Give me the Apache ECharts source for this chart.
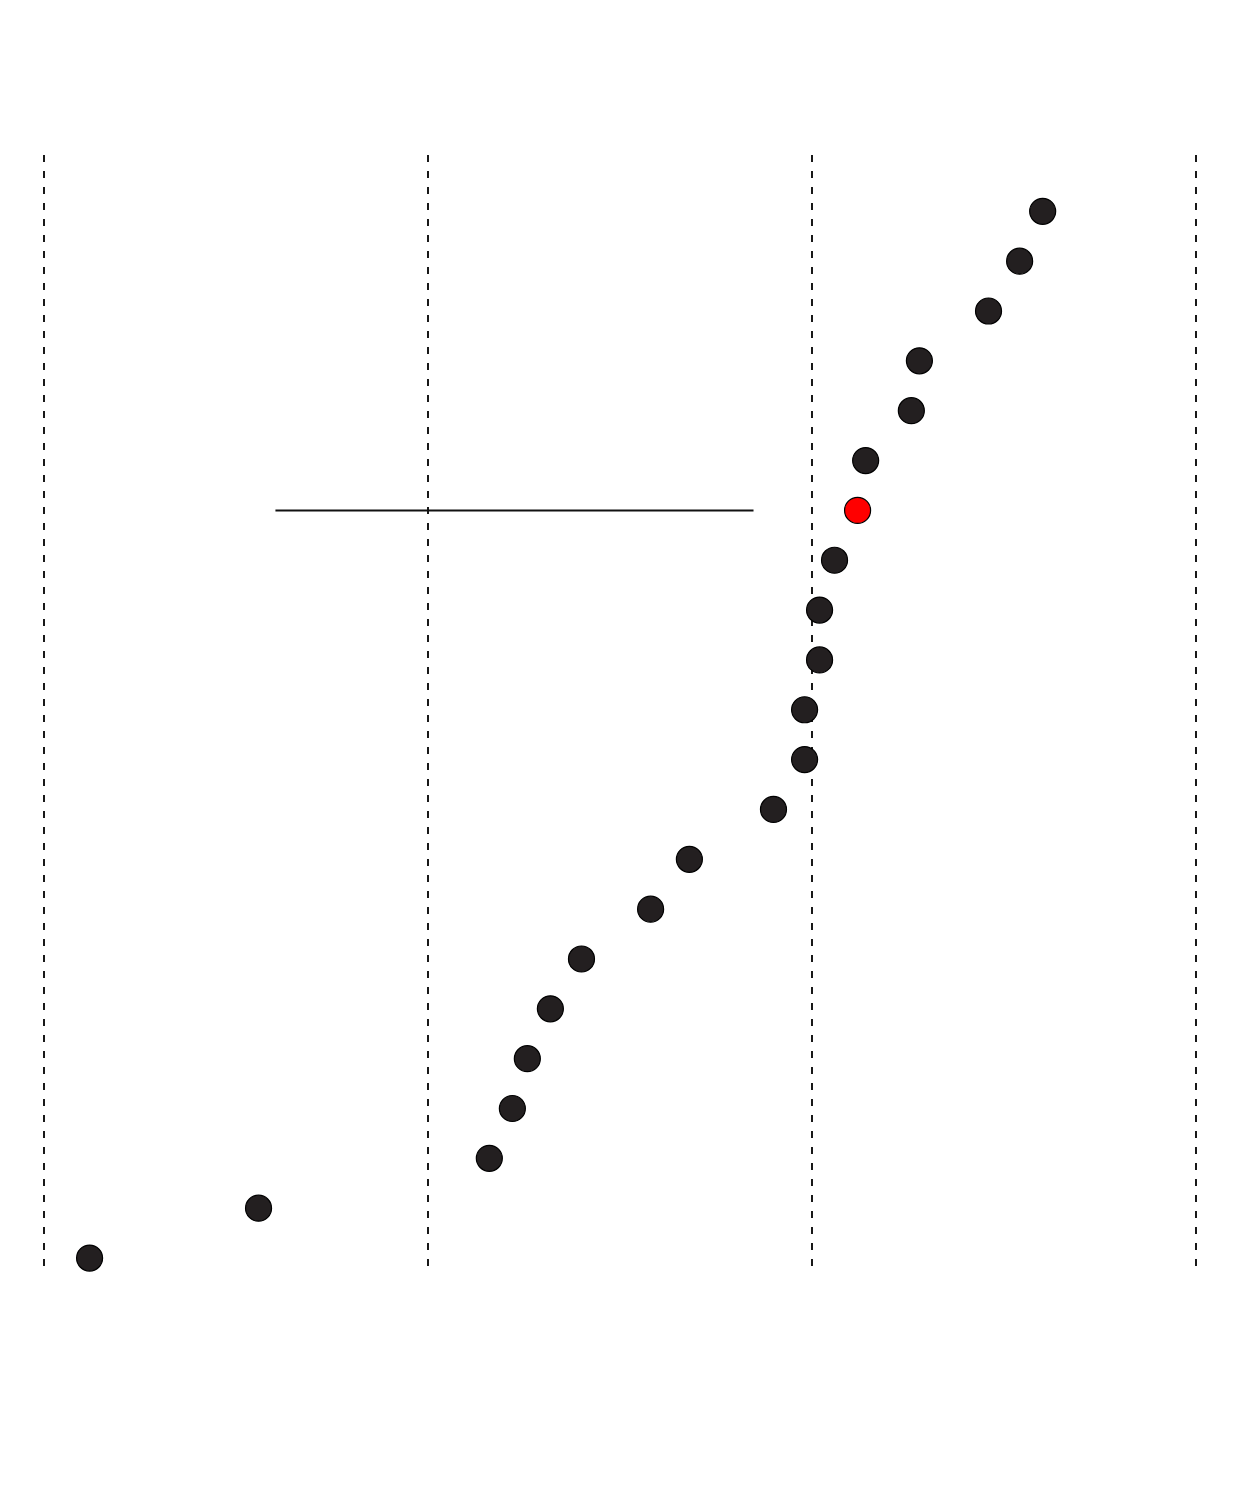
<!DOCTYPE html>
<html>
<head>
<meta charset="utf-8">
<script src="https://cdn.jsdelivr.net/npm/echarts@6/dist/echarts.min.js"></script>
<style>
  html, body { margin: 0; padding: 0; background: #fff; }
  #chart { width: 1240px; height: 1492px; }
</style>
</head>
<body>
<div id="chart"></div>
<script>
// rank from bottom (0) to top (21)
const ranks = [0, 1, 2, 3, 4, 5, 6, 7, 8, 9, 10, 11, 12, 13, 14, 15, 16, 17, 18, 19, 20, 21]
// value per rank
const values = [0.12, 0.56, 1.161, 1.221, 1.26, 1.32, 1.401, 1.581, 1.682, 1.901, 1.982,
  1.982, 2.021, 2.021, 2.06, 2.12, 2.141, 2.26, 2.281, 2.461, 2.542, 2.602]
const highlightRank = 15
// the horizontal segment at the highlighted rank
const segment = [0.604, 1.849]
const xTicks = [0, 1, 2, 3]

const chart = echarts.init(document.getElementById('chart'))

const dots = ranks.map((r, i) => {
  const hi = r === highlightRank
  return {
    value: [values[i], r],
    itemStyle: {
      color: hi ? '#ff0000' : '#231f20',
      borderColor: '#000',
      borderWidth: 1.2,
      opacity: 1
    }
  }
})

chart.setOption({
  backgroundColor: '#fff',
  animation: false,
  grid: { left: 43.5, top: 155, width: 1152, height: 1115 },
  xAxis: {
    type: 'value',
    min: xTicks[0],
    max: xTicks[xTicks.length - 1],
    interval: 1,
    axisLine: { show: false },
    axisTick: { show: false },
    axisLabel: { show: false },
    splitLine: {
      show: true,
      lineStyle: { color: '#000', type: [7, 9], width: 1.8 }
    }
  },
  yAxis: {
    type: 'value',
    min: -0.24,
    max: 22.13,
    axisLine: { show: false },
    axisTick: { show: false },
    axisLabel: { show: false },
    splitLine: { show: false }
  },
  series: [
    {
      type: 'line',
      data: [[segment[0], highlightRank], [segment[1], highlightRank]],
      symbol: 'none',
      lineStyle: { color: '#111', width: 2 },
      z: 1
    },
    {
      type: 'scatter',
      symbol: 'circle',
      symbolSize: 26,
      data: dots,
      z: 3
    }
  ]
})
</script>
</body>
</html>
